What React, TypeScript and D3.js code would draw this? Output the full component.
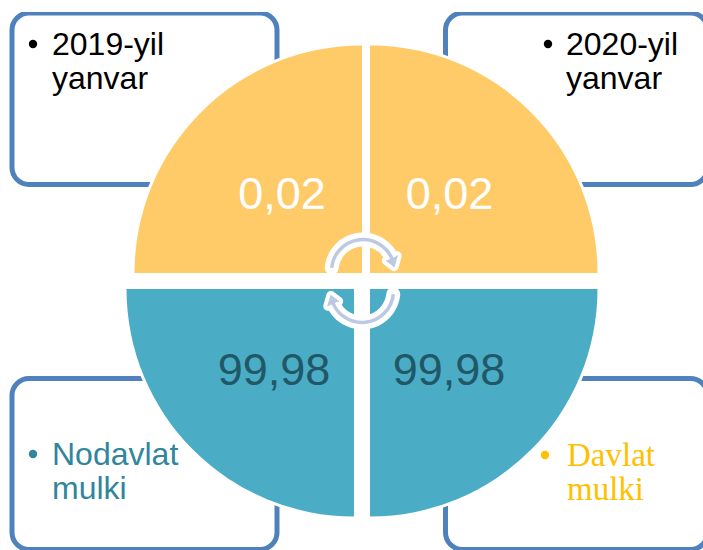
import React from "react";
import * as d3 from "d3";

const W = 703, H = 550;
const quadrantShares = [1, 1, 1, 1];
const quadrantColors = ["#FFCB69", "#4BACC6", "#4BACC6", "#FFCB69"];
const radiusPx = 227.5;
const quadrantCorners: [number, number][] = [[370, 273], [370, 289], [354, 289], [362, 273]];
const quadrantText = [
  { label: "0,02", x: 449.5, y: 209, fill: "#ffffff" },
  { label: "99,98", x: 449, y: 385, fill: "#205867" },
  { label: "99,98", x: 274, y: 385, fill: "#205867" },
  { label: "0,02", x: 282, y: 209, fill: "#ffffff" },
];
const boxes = [
  { x: 12, y: 13, w: 265, h: 171.5 },
  { x: 445.5, y: 13, w: 262, h: 171.5 },
  { x: 12, y: 378.5, w: 265, h: 171 },
  { x: 445.5, y: 378.5, w: 262, h: 171 },
];
const legends = [
  { lines: ["2019-yil", "yanvar"], bx: 29, tx: 52, y: 55, fill: "#000000", font: "'Liberation Sans'", size: 32 },
  { lines: ["2020-yil", "yanvar"], bx: 544, tx: 566, y: 55, fill: "#000000", font: "'Liberation Sans'", size: 32 },
  { lines: ["Nodavlat", "mulki"], bx: 29, tx: 52, y: 465, fill: "#31859C", font: "'Liberation Sans'", size: 32 },
  { lines: ["Davlat", "mulki"], bx: 541, tx: 567, y: 466, fill: "#FFC000", font: "'Liberation Serif'", size: 33 },
];
// Circular arrows: centre and start/end angle in degrees, clockwise from north
const arrows = [
  { cx: 363, cy: 271, a0: -84, a1: 70 },
  { cx: 362, cy: 291, a0: 96, a1: 250 },
];

function arrowGeometry(a: (typeof arrows)[number], r: number) {
  const rad = (d: number) => (d * Math.PI) / 180;
  const path = d3.path();
  path.arc(a.cx, a.cy, r, rad(a.a0 - 90), rad(a.a1 - 90));
  const end = rad(a.a1 + 12);
  const tip: [number, number] = [a.cx + r * Math.sin(end), a.cy - r * Math.cos(end)];
  const mid = rad(a.a1 - 4);
  const out: [number, number] = [a.cx + (r + 6) * Math.sin(mid), a.cy - (r + 6) * Math.cos(mid)];
  const inn: [number, number] = [a.cx + (r - 6) * Math.sin(mid), a.cy - (r - 6) * Math.cos(mid)];
  const head = d3.line()([out, tip, inn]) as string;
  return { arc: path.toString(), head };
}

export default function App() {
  const pie = d3.pie<number>().sort(null)(quadrantShares);
  const arc = d3.arc<d3.PieArcDatum<number>>().innerRadius(0).outerRadius(radiusPx);
  return (
    <svg width={W} height={H} viewBox={`0 0 ${W} ${H}`} style={{ position: "absolute", left: 0, top: 0, background: "#fff" }}>
      <defs>
        <clipPath id="topClip"><rect x={0} y={12} width={W} height={H} /></clipPath>
      </defs>
      <g clipPath="url(#topClip)">
        {boxes.map((b, i) => (
          <rect key={i} x={b.x} y={b.y} width={b.w} height={b.h} rx={17} fill="#fff" stroke="#4F81BD" strokeWidth={5} />
        ))}
      </g>
      {pie.map((d, i) => (
        <path key={"o" + i} d={arc(d) as string} transform={`translate(${quadrantCorners[i][0]},${quadrantCorners[i][1]})`}
          fill={quadrantColors[i]} stroke="#fff" strokeWidth={6} style={{ paintOrder: "stroke" }} />
      ))}
      {quadrantText.map((t, i) => (
        <text key={i} x={t.x} y={t.y} textAnchor="middle" fontFamily="'Liberation Sans'" fontSize={45} fill={t.fill}>{t.label}</text>
      ))}
      {arrows.map((a, i) => {
        const g = arrowGeometry(a, 31.5);
        return (
          <g key={i} fill="none" strokeLinejoin="round" strokeLinecap="round">
            <path d={g.arc} stroke="#fff" strokeWidth={14} />
            <path d={g.head} stroke="#fff" strokeWidth={9} fill="#fff" />
            <path d={g.arc} stroke="#BCC9E2" strokeWidth={3.5} strokeLinecap="butt" />
            <path d={g.head} stroke="#BCC9E2" strokeWidth={1} fill="#BCC9E2" />
          </g>
        );
      })}
      {legends.map((l, i) => (
        <g key={i} fill={l.fill} fontFamily={l.font} fontSize={l.size}>
          <circle cx={l.bx + 4} cy={l.y - 11} r={4.2} />
          {l.lines.map((s, j) => (
            <text key={j} x={l.tx} y={l.y + j * 33.5}>{s}</text>
          ))}
        </g>
      ))}
    </svg>
  );
}
